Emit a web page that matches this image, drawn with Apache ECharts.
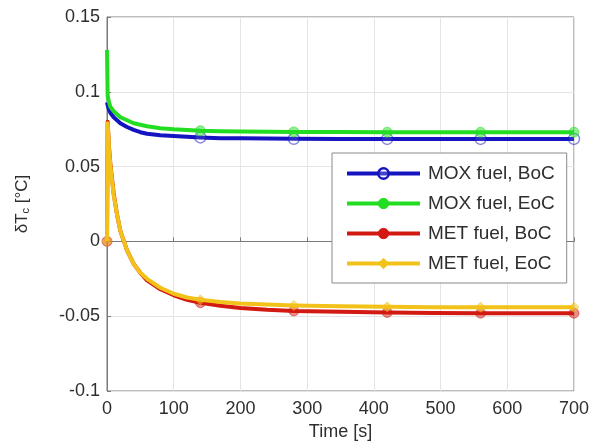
<!DOCTYPE html>
<html><head><meta charset="utf-8">
<script src="https://cdn.jsdelivr.net/npm/echarts@6/dist/echarts.min.js"></script>
<style>html,body{margin:0;padding:0;background:#fff}#c{width:599px;height:448px}</style>
</head><body><div id="c"></div>
<script>
const times = [0, 1, 3, 5, 10, 15, 20, 30, 40, 50, 60, 80, 100, 120, 140, 170, 200, 240, 280, 350, 420, 490, 560, 630, 700];
const moxBoC = [0.093, 0.091, 0.088, 0.086, 0.083, 0.081, 0.079, 0.0765, 0.0745, 0.073, 0.072, 0.071, 0.0705, 0.070, 0.0695, 0.069, 0.069, 0.0688, 0.0686, 0.0685, 0.0685, 0.0685, 0.0685, 0.0685, 0.0685];
const moxEoC = [0.128, 0.097, 0.093, 0.090, 0.087, 0.085, 0.083, 0.081, 0.079, 0.078, 0.077, 0.0757, 0.075, 0.0745, 0.074, 0.0737, 0.0735, 0.0733, 0.0732, 0.0731, 0.073, 0.073, 0.073, 0.073, 0.073];
const metBoC = [0, 0.080, 0.063, 0.052, 0.032, 0.018, 0.007, -0.006, -0.015, -0.021, -0.026, -0.032, -0.036, -0.039, -0.041, -0.043, -0.0445, -0.0457, -0.0465, -0.047, -0.0475, -0.0478, -0.048, -0.048, -0.048];
const metEoC = [0, 0.079, 0.062, 0.051, 0.031, 0.018, 0.007, -0.006, -0.015, -0.021, -0.025, -0.031, -0.035, -0.0375, -0.039, -0.0405, -0.0415, -0.0422, -0.0428, -0.0433, -0.0437, -0.044, -0.044, -0.044, -0.044];
const moxMarkerTimes = [140, 280, 420, 560, 700];
const metMarkerTimes = [0, 140, 280, 420, 560, 700];
const seriesNames = ['MOX fuel, BoC', 'MOX fuel, EoC', 'MET fuel, BoC', 'MET fuel, EoC'];

const colors = ['#1414c0', '#22dd22', '#d21a12', '#f2c21a'];
const symbols = ['circle', 'circle', 'circle', 'diamond'];
const symFill = ['rgba(255,255,255,0.2)', '#22dd22', '#d21a12', '#f2c21a'];
const allVals = [moxBoC, moxEoC, metBoC, metEoC];
const markerSets = [moxMarkerTimes, moxMarkerTimes, metMarkerTimes, metMarkerTimes];
const FONT = 'Liberation Sans, Arial, sans-serif';

function build(vals, marks) {
  return times.map((t, k) => {
    const item = { value: [t, vals[k]] };
    if (marks.indexOf(t) < 0) item.symbol = 'none';
    return item;
  });
}

const series = seriesNames.map((name, i) => ({
  name: name,
  type: 'line',
  data: build(allVals[i], markerSets[i]),
  symbol: symbols[i],
  symbolSize: i === 0 ? 11 : 10,
  showSymbol: true,
  smooth: false,
  lineStyle: { color: colors[i], width: 4, join: 'round' },
  itemStyle: { color: symFill[i], borderColor: colors[i], borderWidth: i === 0 ? 1.5 : 1, opacity: 0.5 },
  z: 2 + i
}));

const chart = echarts.init(document.getElementById('c'), null, { renderer: 'canvas' });
chart.setOption({
  animation: false,
  backgroundColor: '#ffffff',
  grid: { left: 107, right: 25, top: 17, bottom: 57, show: true, borderColor: '#7a7a7a', borderWidth: 1, backgroundColor: '#fff' },
  legend: {
    data: seriesNames.map((n, i) => ({ name: n, itemStyle: { opacity: 1, borderWidth: i === 0 ? 2.5 : 1 }, lineStyle: { width: 4, color: colors[i] } })),
    orient: 'vertical',
    left: 332, top: 153,
    itemWidth: 73, itemHeight: 13,
    itemGap: 11,
    padding: [11, 12, 10, 13],
    backgroundColor: '#fff',
    borderColor: '#8a8a8a', borderWidth: 1,
    textStyle: { fontFamily: FONT, fontSize: 19, color: '#2e2e2e', padding: [0, 0, 0, 3] }
  },
  xAxis: {
    type: 'value', min: 0, max: 700, interval: 100,
    name: 'Time [s]', nameLocation: 'middle', nameGap: 30,
    nameTextStyle: { fontFamily: FONT, fontSize: 18, color: '#2e2e2e' },
    axisLine: { show: true, lineStyle: { color: '#7a7a7a', width: 1 } },
    axisTick: { show: true, inside: true, length: 4, lineStyle: { color: '#7a7a7a' } },
    axisLabel: { fontFamily: FONT, fontSize: 18, color: '#2e2e2e', margin: 9 },
    splitLine: { show: true, lineStyle: { color: '#e4e4e4', width: 1 } }
  },
  yAxis: {
    type: 'value', min: -0.1, max: 0.15, interval: 0.05,
    name: 'δT{sub|c} [°C]', nameLocation: 'middle', nameGap: 76,
    nameTextStyle: { fontFamily: FONT, fontSize: 17, color: '#2e2e2e',
      rich: { sub: { fontSize: 11, verticalAlign: 'bottom', padding: [7, 0, 0, 0], fontFamily: FONT, color: '#2e2e2e' } } },
    axisLine: { show: true, lineStyle: { color: '#7a7a7a', width: 1 } },
    axisTick: { show: true, inside: true, length: 4, lineStyle: { color: '#7a7a7a' } },
    axisLabel: { fontFamily: FONT, fontSize: 18, color: '#2e2e2e', margin: 7,
      formatter: v => String(Math.round(v * 100) / 100) },
    splitLine: { show: true, lineStyle: { color: '#e4e4e4', width: 1 } }
  },
  series: series
});
</script></body></html>
